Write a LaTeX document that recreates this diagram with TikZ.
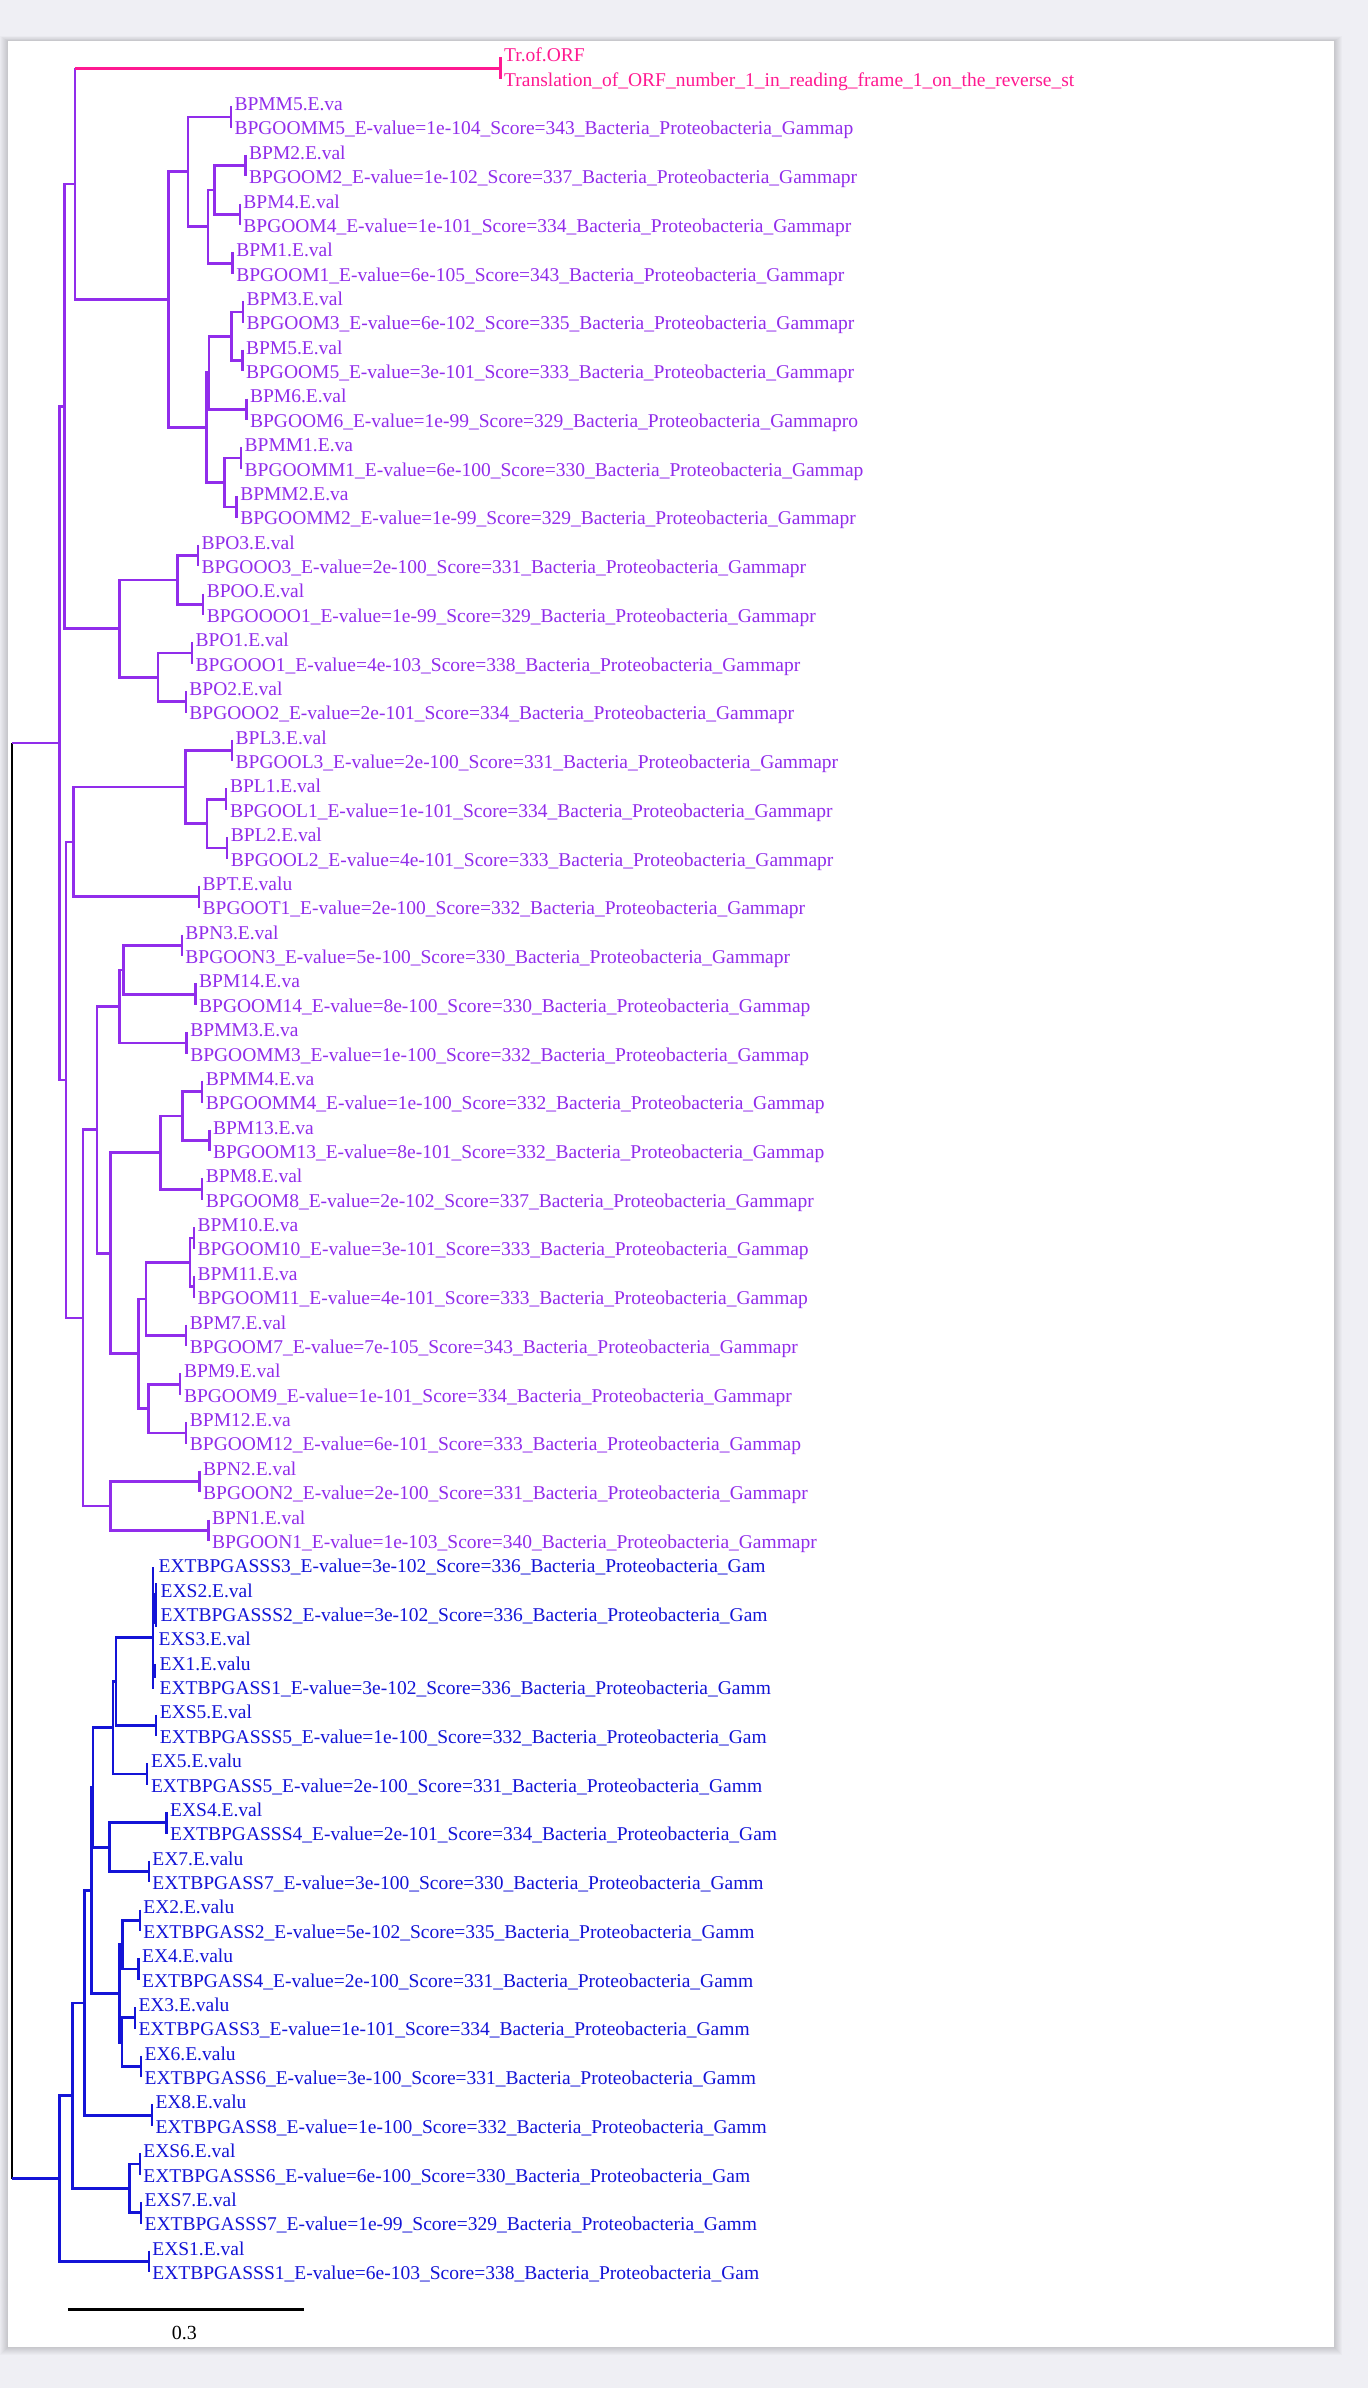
\documentclass[tikz,border=0pt]{standalone}
\usepackage{fontspec}
\setmainfont{Liberation Serif}
\usetikzlibrary{calc}
\definecolor{bgc}{RGB}{239,239,244}
\definecolor{pkc}{RGB}{255,25,145}
\definecolor{puc}{RGB}{145,45,235}
\definecolor{blc}{RGB}{20,20,215}
\tikzset{
  br/.style={line width=2.7pt},
  tk/.style={line width=2.3pt},
  lbl/.style={anchor=base west, inner sep=0pt, font=\fontsize{19.5}{24}\selectfont},
  pu/.style={color=puc},
  pk/.style={color=pkc},
  bl/.style={color=blc}
}
\newcommand\tleaf[6]{%
  \coordinate (#1) at (#2,{56+(#3-0.5)*24.37});
  \draw[tk,#4] ([yshift=10.8pt]#1) -- ([yshift=-10.8pt]#1);
  \node[lbl,#4] (#1a) at ([xshift=3.5pt,yshift=6.4pt]#1) {#5};
  \node[lbl,#4] (#1b) at ([xshift=3.5pt,yshift=-18pt]#1) {#6};}
\newcommand\tline[5]{\node[lbl,#4] (#1) at (#2,{56+(#3-1)*24.37+5.8}) {#5};}
\newcommand\inode[4]{%
  \coordinate (#1m) at ($(#3)!0.5!(#4)$);
  \coordinate (#1x) at (#2,0);
  \coordinate (#1) at (#1x |- #1m);}
\newcommand\kids[4]{\draw[br,#1] (#2) |- (#3); \draw[br,#1] (#2) |- (#4);}
\begin{document}
\begin{tikzpicture}[x=1pt,y=-1pt]
\useasboundingbox (0,0) rectangle (1368,2388);
\fill[bgc] (0,0) rectangle (1368,2388);
\foreach \s in {1,...,8} \fill[black,opacity=0.02] ({8-\s},{41-0.6*\s}) rectangle ({1334+\s},{2347+\s});
\fill[white] (8,41) rectangle (1334,2347);

% ---- leaves: pink / purple
\tleaf{k1}{500.5}{1}{pk}{Tr.of.ORF}{Translation\_of\_ORF\_number\_1\_in\_reading\_frame\_1\_on\_the\_reverse\_st}
\tleaf{k2}{230.8}{3}{pu}{BPMM5.E.va}{BPGOOMM5\_E-value=1e-104\_Score=343\_Bacteria\_Proteobacteria\_Gammap}
\tleaf{k3}{245.5}{5}{pu}{BPM2.E.val}{BPGOOM2\_E-value=1e-102\_Score=337\_Bacteria\_Proteobacteria\_Gammapr}
\tleaf{k4}{239.7}{7}{pu}{BPM4.E.val}{BPGOOM4\_E-value=1e-101\_Score=334\_Bacteria\_Proteobacteria\_Gammapr}
\tleaf{k5}{232.6}{9}{pu}{BPM1.E.val}{BPGOOM1\_E-value=6e-105\_Score=343\_Bacteria\_Proteobacteria\_Gammapr}
\tleaf{k6}{242.8}{11}{pu}{BPM3.E.val}{BPGOOM3\_E-value=6e-102\_Score=335\_Bacteria\_Proteobacteria\_Gammapr}
\tleaf{k7}{242.4}{13}{pu}{BPM5.E.val}{BPGOOM5\_E-value=3e-101\_Score=333\_Bacteria\_Proteobacteria\_Gammapr}
\tleaf{k8}{246.4}{15}{pu}{BPM6.E.val}{BPGOOM6\_E-value=1e-99\_Score=329\_Bacteria\_Proteobacteria\_Gammapro}
\tleaf{k9}{241}{17}{pu}{BPMM1.E.va}{BPGOOMM1\_E-value=6e-100\_Score=330\_Bacteria\_Proteobacteria\_Gammap}
\tleaf{k10}{236.6}{19}{pu}{BPMM2.E.va}{BPGOOMM2\_E-value=1e-99\_Score=329\_Bacteria\_Proteobacteria\_Gammapr}
\tleaf{k11}{197.8}{21}{pu}{BPO3.E.val}{BPGOOO3\_E-value=2e-100\_Score=331\_Bacteria\_Proteobacteria\_Gammapr}
\tleaf{k12}{203.1}{23}{pu}{BPOO.E.val}{BPGOOOO1\_E-value=1e-99\_Score=329\_Bacteria\_Proteobacteria\_Gammapr}
\tleaf{k13}{192}{25}{pu}{BPO1.E.val}{BPGOOO1\_E-value=4e-103\_Score=338\_Bacteria\_Proteobacteria\_Gammapr}
\tleaf{k14}{185.7}{27}{pu}{BPO2.E.val}{BPGOOO2\_E-value=2e-101\_Score=334\_Bacteria\_Proteobacteria\_Gammapr}
\tleaf{k15}{232}{29}{pu}{BPL3.E.val}{BPGOOL3\_E-value=2e-100\_Score=331\_Bacteria\_Proteobacteria\_Gammapr}
\tleaf{k16}{226.3}{31}{pu}{BPL1.E.val}{BPGOOL1\_E-value=1e-101\_Score=334\_Bacteria\_Proteobacteria\_Gammapr}
\tleaf{k17}{227.2}{33}{pu}{BPL2.E.val}{BPGOOL2\_E-value=4e-101\_Score=333\_Bacteria\_Proteobacteria\_Gammapr}
\tleaf{k18}{199}{35}{pu}{BPT.E.valu}{BPGOOT1\_E-value=2e-100\_Score=332\_Bacteria\_Proteobacteria\_Gammapr}
\tleaf{k19}{181.7}{37}{pu}{BPN3.E.val}{BPGOON3\_E-value=5e-100\_Score=330\_Bacteria\_Proteobacteria\_Gammapr}
\tleaf{k20}{195.5}{39}{pu}{BPM14.E.va}{BPGOOM14\_E-value=8e-100\_Score=330\_Bacteria\_Proteobacteria\_Gammap}
\tleaf{k21}{186.6}{41}{pu}{BPMM3.E.va}{BPGOOMM3\_E-value=1e-100\_Score=332\_Bacteria\_Proteobacteria\_Gammap}
\tleaf{k22}{202.2}{43}{pu}{BPMM4.E.va}{BPGOOMM4\_E-value=1e-100\_Score=332\_Bacteria\_Proteobacteria\_Gammap}
\tleaf{k23}{209.4}{45}{pu}{BPM13.E.va}{BPGOOM13\_E-value=8e-101\_Score=332\_Bacteria\_Proteobacteria\_Gammap}
\tleaf{k24}{202.2}{47}{pu}{BPM8.E.val}{BPGOOM8\_E-value=2e-102\_Score=337\_Bacteria\_Proteobacteria\_Gammapr}
\tleaf{k25}{193.8}{49}{pu}{BPM10.E.va}{BPGOOM10\_E-value=3e-101\_Score=333\_Bacteria\_Proteobacteria\_Gammap}
\tleaf{k26}{193.8}{51}{pu}{BPM11.E.va}{BPGOOM11\_E-value=4e-101\_Score=333\_Bacteria\_Proteobacteria\_Gammap}
\tleaf{k27}{186.2}{53}{pu}{BPM7.E.val}{BPGOOM7\_E-value=7e-105\_Score=343\_Bacteria\_Proteobacteria\_Gammapr}
\tleaf{k28}{180.3}{55}{pu}{BPM9.E.val}{BPGOOM9\_E-value=1e-101\_Score=334\_Bacteria\_Proteobacteria\_Gammapr}
\tleaf{k29}{186.2}{57}{pu}{BPM12.E.va}{BPGOOM12\_E-value=6e-101\_Score=333\_Bacteria\_Proteobacteria\_Gammap}
\tleaf{k30}{199.5}{59}{pu}{BPN2.E.val}{BPGOON2\_E-value=2e-100\_Score=331\_Bacteria\_Proteobacteria\_Gammapr}
\tleaf{k31}{208.5}{61}{pu}{BPN1.E.val}{BPGOON1\_E-value=1e-103\_Score=340\_Bacteria\_Proteobacteria\_Gammapr}

% ---- leaves: blue
\coordinate (CL) at (153.3,1637.3);
\coordinate (CLt) at (153.3,1567);
\coordinate (CLb) at (153.3,1689);
\draw[tk,bl] (CLt) -- (CLb);
\coordinate (CSa) at (155.8,1583);
\coordinate (CSb) at (155.8,1627);
\draw[tk,bl] (CSa) -- (CSb);
\coordinate (CSc) at (155.3,1593);
\coordinate (CSd) at (155.3,1624);
\draw[line width=3.6pt,blc] (CSc) -- (CSd);
\coordinate (CSe) at (154.6,1664);
\coordinate (CSf) at (154.6,1678);
\draw[line width=3.6pt,blc] (CSe) -- (CSf);
\tline{t63}{158.5}{63}{bl}{EXTBPGASSS3\_E-value=3e-102\_Score=336\_Bacteria\_Proteobacteria\_Gam}
\tline{t64}{160.5}{64}{bl}{EXS2.E.val}
\tline{t65}{160.5}{65}{bl}{EXTBPGASSS2\_E-value=3e-102\_Score=336\_Bacteria\_Proteobacteria\_Gam}
\tline{t66}{158.5}{66}{bl}{EXS3.E.val}
\tline{t67}{159.5}{67}{bl}{EX1.E.valu}
\tline{t68}{159.5}{68}{bl}{EXTBPGASS1\_E-value=3e-102\_Score=336\_Bacteria\_Proteobacteria\_Gamm}
\tleaf{xs5}{156.2}{69}{bl}{EXS5.E.val}{EXTBPGASSS5\_E-value=1e-100\_Score=332\_Bacteria\_Proteobacteria\_Gam}
\tleaf{x5}{147.3}{71}{bl}{EX5.E.valu}{EXTBPGASS5\_E-value=2e-100\_Score=331\_Bacteria\_Proteobacteria\_Gamm}
\tleaf{xs4}{166.5}{73}{bl}{EXS4.E.val}{EXTBPGASSS4\_E-value=2e-101\_Score=334\_Bacteria\_Proteobacteria\_Gam}
\tleaf{x7}{148.7}{75}{bl}{EX7.E.valu}{EXTBPGASS7\_E-value=3e-100\_Score=330\_Bacteria\_Proteobacteria\_Gamm}
\tleaf{x2}{139.7}{77}{bl}{EX2.E.valu}{EXTBPGASS2\_E-value=5e-102\_Score=335\_Bacteria\_Proteobacteria\_Gamm}
\tleaf{x4}{138.4}{79}{bl}{EX4.E.valu}{EXTBPGASS4\_E-value=2e-100\_Score=331\_Bacteria\_Proteobacteria\_Gamm}
\tleaf{x3}{134.8}{81}{bl}{EX3.E.valu}{EXTBPGASS3\_E-value=1e-101\_Score=334\_Bacteria\_Proteobacteria\_Gamm}
\tleaf{x6}{141}{83}{bl}{EX6.E.valu}{EXTBPGASS6\_E-value=3e-100\_Score=331\_Bacteria\_Proteobacteria\_Gamm}
\tleaf{x8}{151.8}{85}{bl}{EX8.E.valu}{EXTBPGASS8\_E-value=1e-100\_Score=332\_Bacteria\_Proteobacteria\_Gamm}
\tleaf{xs6}{139.7}{87}{bl}{EXS6.E.val}{EXTBPGASSS6\_E-value=6e-100\_Score=330\_Bacteria\_Proteobacteria\_Gam}
\tleaf{xs7}{141}{89}{bl}{EXS7.E.val}{EXTBPGASSS7\_E-value=1e-99\_Score=329\_Bacteria\_Proteobacteria\_Gamm}
\tleaf{xs1}{148.7}{91}{bl}{EXS1.E.val}{EXTBPGASSS1\_E-value=6e-103\_Score=338\_Bacteria\_Proteobacteria\_Gam}

% ---- internal nodes (purple clade)
\inode{E}{214.7}{k3}{k4}
\inode{D}{208}{E}{k5}
\inode{F}{188}{k2}{D}
\inode{J}{231.2}{k6}{k7}
\inode{I}{208.9}{J}{k8}
\inode{K}{224.5}{k9}{k10}
\inode{H}{206.2}{I}{K}
\inode{G}{168.3}{F}{H}
\inode{PN}{75}{k1}{G}
\inode{Q}{177.7}{k11}{k12}
\inode{S}{158}{k13}{k14}
\inode{C}{119.6}{Q}{S}
\inode{A}{64.7}{PN}{C}
\inode{N}{207}{k16}{k17}
\inode{M}{185.7}{k15}{N}
\inode{L}{73.7}{M}{k18}
\inode{Y}{123.2}{k19}{k20}
\inode{W}{119.3}{Y}{k21}
\inode{AA}{182.6}{k22}{k23}
\inode{Z}{160.7}{AA}{k24}
\inode{AD}{190}{k25}{k26}
\inode{AC}{146}{AD}{k27}
\inode{AE}{148.2}{k28}{k29}
\inode{AB}{138.8}{AC}{AE}
\inode{X}{110.7}{Z}{AB}
\inode{U}{96.9}{W}{X}
\inode{V}{110.7}{k30}{k31}
\inode{T}{83}{U}{V}
\inode{P}{66}{L}{T}
\inode{B}{59.4}{A}{P}
% ---- internal nodes (blue clade)
\inode{BA}{116}{CL}{xs5}
\inode{BB}{113}{BA}{x5}
\inode{BD}{109.8}{xs4}{x7}
\inode{BC}{92.9}{BB}{BD}
\inode{BG}{122.8}{x2}{x4}
\inode{BH}{121.9}{x3}{x6}
\inode{BF}{119.6}{BG}{BH}
\inode{BE}{91.5}{BC}{BF}
\inode{BI}{84.8}{BE}{x8}
\inode{BK}{129.5}{xs6}{xs7}
\inode{BJ}{72.3}{BI}{BK}
\inode{BL}{59.4}{BJ}{xs1}
\inode{R}{12}{B}{BL}

% ---- branches
\kids{puc}{E}{k3}{k4}
\kids{puc}{D}{E}{k5}
\kids{puc}{F}{k2}{D}
\kids{puc}{J}{k6}{k7}
\kids{puc}{I}{J}{k8}
\kids{puc}{K}{k9}{k10}
\kids{puc}{H}{I}{K}
\kids{puc}{G}{F}{H}
\draw[br,puc] (PN) |- (G);
\draw[br,puc] (PN) -- (PN |- k1);
\draw[br,pkc] (PN |- k1) -- (k1);
\kids{puc}{Q}{k11}{k12}
\kids{puc}{S}{k13}{k14}
\kids{puc}{C}{Q}{S}
\kids{puc}{A}{PN}{C}
\kids{puc}{N}{k16}{k17}
\kids{puc}{M}{k15}{N}
\kids{puc}{L}{M}{k18}
\kids{puc}{Y}{k19}{k20}
\kids{puc}{W}{Y}{k21}
\kids{puc}{AA}{k22}{k23}
\kids{puc}{Z}{AA}{k24}
\kids{puc}{AD}{k25}{k26}
\kids{puc}{AC}{AD}{k27}
\kids{puc}{AE}{k28}{k29}
\kids{puc}{AB}{AC}{AE}
\kids{puc}{X}{Z}{AB}
\kids{puc}{U}{W}{X}
\kids{puc}{V}{k30}{k31}
\kids{puc}{T}{U}{V}
\kids{puc}{P}{L}{T}
\kids{puc}{B}{A}{P}
\kids{blc}{BA}{CL}{xs5}
\kids{blc}{BB}{BA}{x5}
\kids{blc}{BD}{xs4}{x7}
\kids{blc}{BC}{BB}{BD}
\kids{blc}{BG}{x2}{x4}
\kids{blc}{BH}{x3}{x6}
\kids{blc}{BF}{BG}{BH}
\kids{blc}{BE}{BC}{BF}
\kids{blc}{BI}{BE}{x8}
\kids{blc}{BK}{xs6}{xs7}
\kids{blc}{BJ}{BI}{BK}
\kids{blc}{BL}{BJ}{xs1}
\draw[br,black] (R |- B) -- (R |- BL);
\draw[br,puc] (R |- B) -- (B);
\draw[br,blc] (R |- BL) -- (BL);

% ---- scale bar
\coordinate (sb1) at (67.9,2309.3);
\coordinate (sb2) at (303.6,2309.3);
\draw[line width=3pt,black] (sb1) -- (sb2);
\node[inner sep=0pt,font=\fontsize{20}{24}\selectfont] (sbl) at (184.4,2333) {0.3};
\end{tikzpicture}
\end{document}
